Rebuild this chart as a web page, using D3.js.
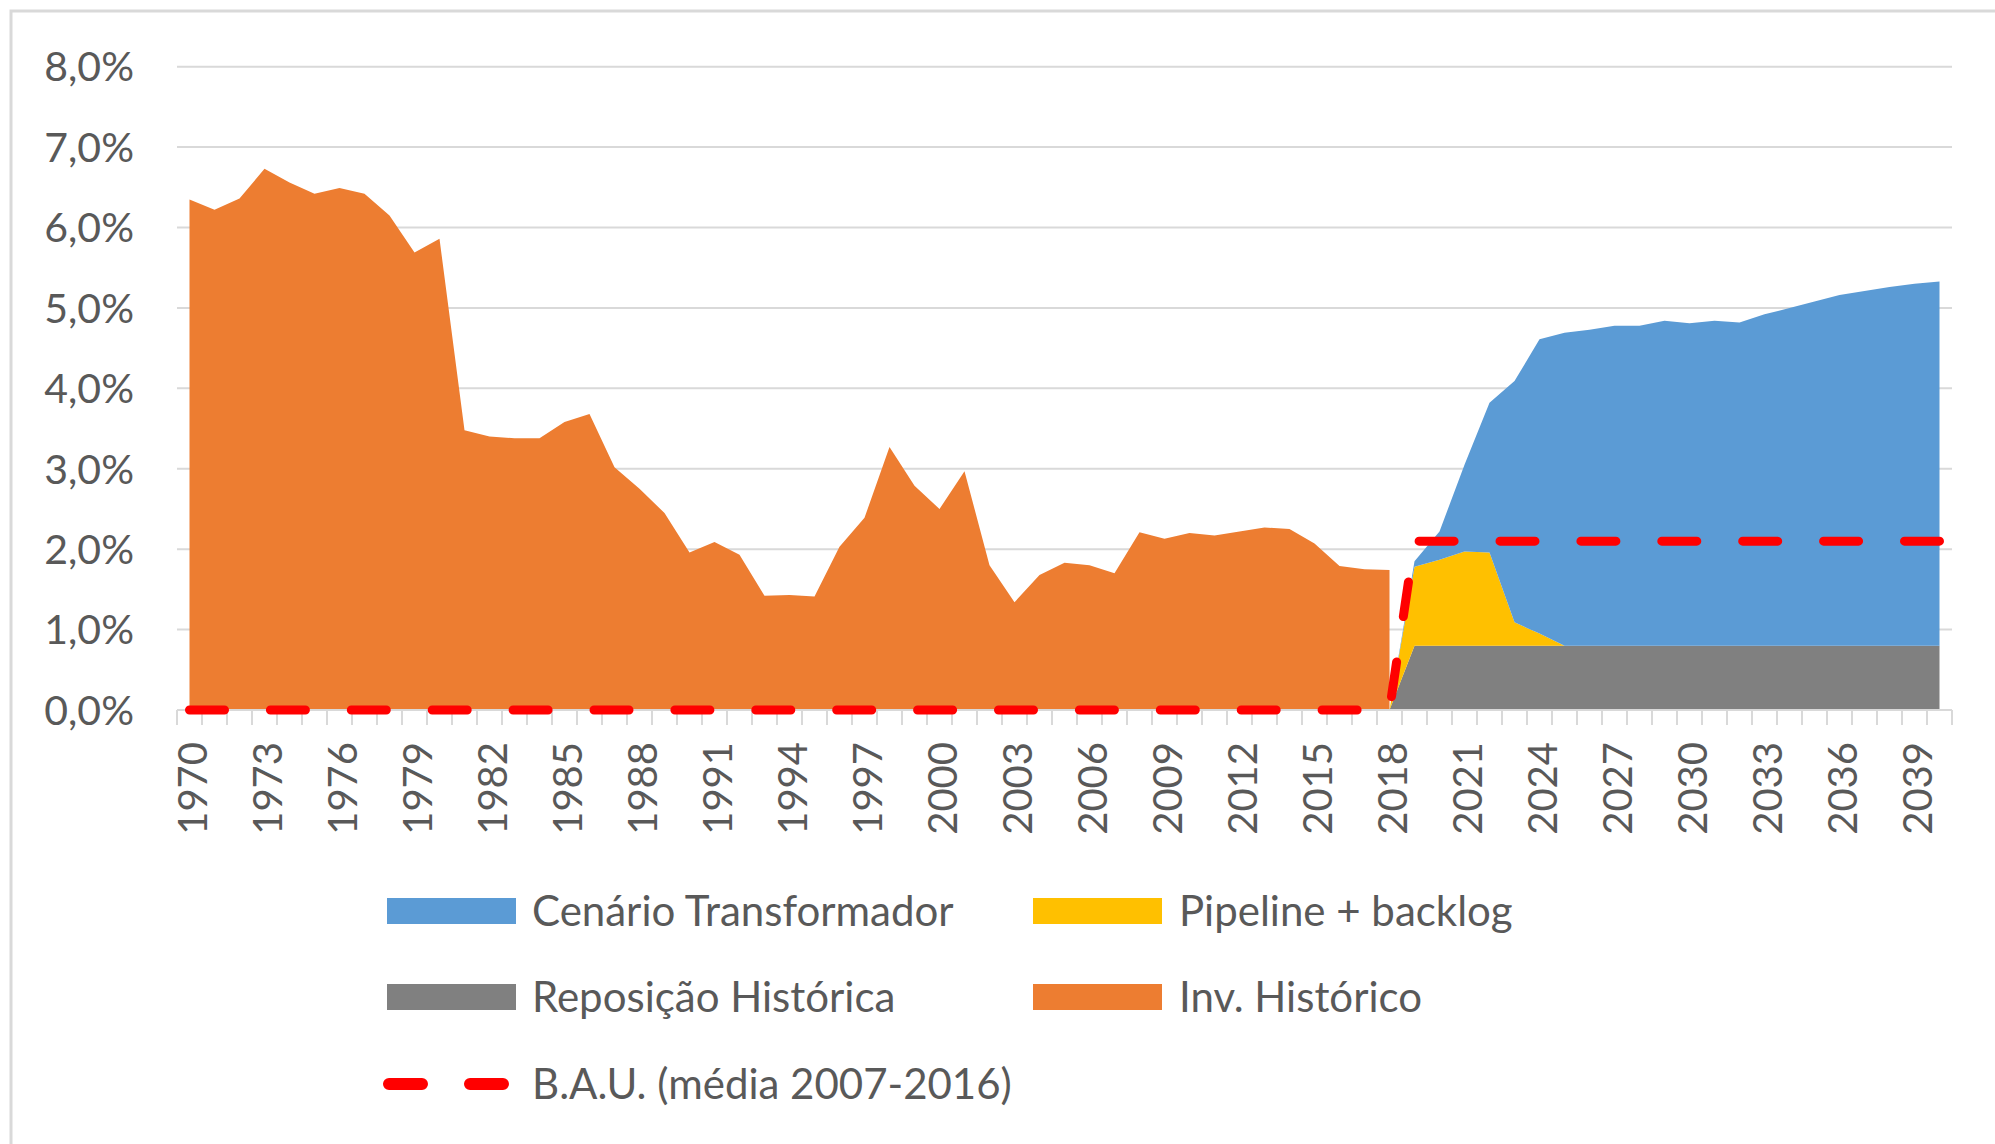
<!DOCTYPE html>
<html>
<head>
<meta charset="utf-8">
<script src="https://cdn.jsdelivr.net/npm/d3@7"></script>
<style>
  html, body { margin: 0; padding: 0; background: #ffffff; }
  svg { display: block; }
  text { font-family: Lato, "Open Sans", sans-serif; fill: #595959; }
</style>
</head>
<body>
<svg id="chart" width="1995" height="1144"></svg>
<script>
// ---- Data ----
const years = [1970,1971,1972,1973,1974,1975,1976,1977,1978,1979,1980,1981,1982,1983,1984,1985,1986,1987,1988,1989,
  1990,1991,1992,1993,1994,1995,1996,1997,1998,1999,2000,2001,2002,2003,2004,2005,2006,2007,2008,2009,
  2010,2011,2012,2013,2014,2015,2016,2017,2018,2019,2020,2021,2022,2023,2024,2025,2026,2027,2028,2029,
  2030,2031,2032,2033,2034,2035,2036,2037,2038,2039,2040];

// Inv. Histórico (1970-2018)
const histYears = years.slice(0, 49);
const invHistorico = [6.35,6.22,6.36,6.73,6.56,6.42,6.49,6.42,6.15,5.69,5.86,3.48,3.40,3.38,3.38,3.58,3.68,3.02,2.75,2.45,
  1.96,2.09,1.93,1.42,1.43,1.41,2.03,2.39,3.27,2.79,2.50,2.97,1.80,1.34,1.68,1.83,1.80,1.70,2.21,2.13,
  2.20,2.17,2.22,2.27,2.25,2.07,1.79,1.75,1.74];

// Projection years (2018-2040)
const projYears = years.slice(48);
const reposicaoHistorica = [0,0.8,0.8,0.8,0.8,0.8,0.8,0.8,0.8,0.8,0.8,0.8,0.8,0.8,0.8,0.8,0.8,0.8,0.8,0.8,0.8,0.8,0.8];
const pipelineBacklog   = [0,0.98,1.07,1.17,1.16,0.29,0.15,0,0,0,0,0,0,0,0,0,0,0,0,0,0,0,0];
const cenarioTransformador = [0,0.07,0.35,1.08,1.86,3.00,3.66,3.89,3.93,3.98,3.98,4.04,4.01,4.04,4.02,4.12,4.20,4.28,4.36,4.41,4.46,4.50,4.53];

// B.A.U. (média 2007-2016)
const bau = [0,0,0,0,0,0,0,0,0,0,0,0,0,0,0,0,0,0,0,0,0,0,0,0,0,0,0,0,0,0,0,0,0,0,0,0,0,0,0,0,0,0,0,0,0,0,0,0,0,
  2.1,2.1,2.1,2.1,2.1,2.1,2.1,2.1,2.1,2.1,2.1,2.1,2.1,2.1,2.1,2.1,2.1,2.1,2.1,2.1,2.1,2.1];

const yTicks = [0,1,2,3,4,5,6,7,8];
const xLabelYears = [1970,1973,1976,1979,1982,1985,1988,1991,1994,1997,2000,2003,2006,2009,2012,2015,2018,2021,2024,2027,2030,2033,2036,2039];

const legendItems = [
  {name: "Cenário Transformador", color: "#5B9BD5", type: "rect"},
  {name: "Pipeline + backlog", color: "#FFC000", type: "rect"},
  {name: "Reposição Histórica", color: "#808080", type: "rect"},
  {name: "Inv. Histórico", color: "#ED7D31", type: "rect"},
  {name: "B.A.U. (média 2007-2016)", color: "#FF0000", type: "line"}
];

// ---- Layout ----
const svg = d3.select("#chart");
const plotLeft = 177, plotRight = 1952, plotTop = 66.7, plotBottom = 710;

const x = d3.scaleBand().domain(years).range([plotLeft, plotRight]).padding(0);
const xc = d => x(d) + x.bandwidth() / 2;
const y = d3.scaleLinear().domain([0, 8]).range([plotBottom, plotTop]);

// outer frame
svg.append("rect").attr("x", 11).attr("y", 11).attr("width", 2100).attr("height", 1300)
  .attr("fill", "none").attr("stroke", "#d9d9d9").attr("stroke-width", 3);

// gridlines
svg.append("g").selectAll("line").data(yTicks.filter(d => d > 0)).join("line")
  .attr("x1", plotLeft).attr("x2", plotRight)
  .attr("y1", d => y(d)).attr("y2", d => y(d))
  .attr("stroke", "#d9d9d9").attr("stroke-width", 2);

// y tick labels
const fmt = d => d.toFixed(1).replace(".", ",") + "%";
svg.append("g").selectAll("text").data(yTicks).join("text")
  .attr("x", 134).attr("y", d => y(d)).attr("dy", "0.36em")
  .attr("text-anchor", "end").style("font-size", "41px")
  .text(fmt);

// orange area (historic)
const histData = histYears.map((yr, i) => ({yr, v: invHistorico[i]}));
svg.append("path").datum(histData)
  .attr("fill", "#ED7D31")
  .attr("d", d3.area().x(d => xc(d.yr)).y0(y(0)).y1(d => y(d.v)));

// stacked projection areas
const projData = projYears.map((yr, i) => ({
  yr,
  rep: reposicaoHistorica[i],
  pip: pipelineBacklog[i],
  cen: cenarioTransformador[i]
}));
const stack = d3.stack().keys(["rep", "pip", "cen"]);
const series = stack(projData);
const stackColors = {rep: "#808080", pip: "#FFC000", cen: "#5B9BD5"};
svg.append("g").selectAll("path").data(series).join("path")
  .attr("fill", s => stackColors[s.key])
  .attr("d", d3.area().x(d => xc(d.data.yr)).y0(d => y(d[0])).y1(d => y(d[1])));

// x axis line
svg.append("line").attr("x1", plotLeft).attr("x2", plotRight)
  .attr("y1", plotBottom).attr("y2", plotBottom)
  .attr("stroke", "#d9d9d9").attr("stroke-width", 2);

// x ticks at band boundaries
const tickPos = years.map(d => x(d)).concat([plotRight]);
svg.append("g").selectAll("line").data(tickPos).join("line")
  .attr("x1", d => d).attr("x2", d => d)
  .attr("y1", plotBottom).attr("y2", plotBottom + 15)
  .attr("stroke", "#d9d9d9").attr("stroke-width", 2);

// x labels
svg.append("g").selectAll("text").data(xLabelYears).join("text")
  .attr("transform", d => `translate(${xc(d)},742) rotate(-90)`)
  .attr("dy", "0.43em")
  .attr("text-anchor", "end").style("font-size", "40px")
  .text(d => d);

// BAU dashed line
const bauData = years.map((yr, i) => ({yr, v: bau[i]}));
svg.append("path").datum(bauData)
  .attr("fill", "none").attr("stroke", "#FF0000").attr("stroke-width", 9)
  .attr("stroke-linecap", "round").attr("stroke-dasharray", "35,45.9")
  .attr("d", d3.line().x(d => xc(d.yr)).y(d => y(d.v)));

// legend
const legendPos = [
  {sx: 387, tx: 532, cy: 911},
  {sx: 1033, tx: 1179, cy: 911},
  {sx: 387, tx: 532, cy: 997},
  {sx: 1033, tx: 1179, cy: 997},
  {sx: 387, tx: 532, cy: 1084}
];
const lg = svg.append("g");
legendItems.forEach((it, i) => {
  const p = legendPos[i];
  if (it.type === "rect") {
    lg.append("rect").attr("x", p.sx).attr("y", p.cy - 13).attr("width", 129).attr("height", 26)
      .attr("fill", it.color);
  } else {
    lg.append("line").attr("x1", p.sx + 2).attr("x2", p.sx + 124)
      .attr("y1", p.cy).attr("y2", p.cy)
      .attr("stroke", it.color).attr("stroke-width", 12)
      .attr("stroke-linecap", "round").attr("stroke-dasharray", "33,48");
  }
  lg.append("text").attr("x", p.tx).attr("y", p.cy).attr("dy", "0.36em")
    .style("font-size", "42px").text(it.name);
});
</script>
</body>
</html>
